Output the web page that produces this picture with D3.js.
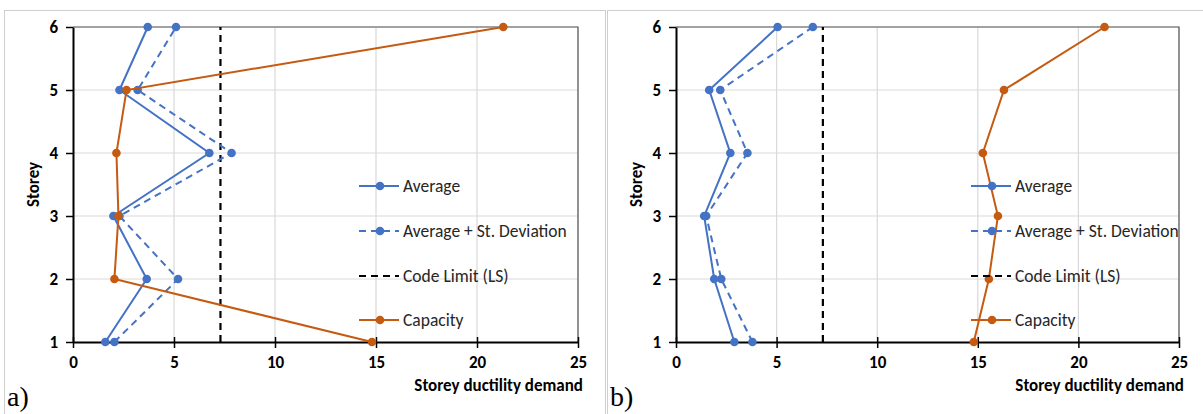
<!DOCTYPE html>
<html>
<head>
<meta charset="utf-8">
<script src="https://cdn.jsdelivr.net/npm/d3@7"></script>
<style>
  body { margin: 0; background: #fff; }
  svg { display: block; font-family: Calibri, Carlito, "Open Sans", "Noto Sans", sans-serif; }
</style>
</head>
<body>
<script>
// data
var storeys = [1, 2, 3, 4, 5, 6];
var xTicks = [0, 5, 10, 15, 20, 25];
var codeLimit = 7.3;

var avgA   = [1.6, 3.65, 2.0, 6.75, 2.3, 3.7];
var avgSdA = [2.05, 5.2, 2.3, 7.85, 3.2, 5.1];
var capA   = [14.8, 2.05, 2.25, 2.15, 2.65, 21.3];

var avgB   = [2.9, 1.9, 1.4, 2.7, 1.65, 5.05];
var avgSdB = [3.8, 2.25, 1.5, 3.55, 2.2, 6.8];
var capB   = [14.8, 15.55, 16.0, 15.25, 16.3, 21.3];

var legendLabels = ["Average", "Average + St. Deviation", "Code Limit (LS)", "Capacity"];

var blue = "#4472c4", orange = "#c55a11";

var svg = d3.select("body").append("svg")
  .attr("width", 1203)
  .attr("height", 414);

// panel frames
svg.append("rect").attr("x", 4.5).attr("y", 10.5).attr("width", 601).attr("height", 410)
  .attr("fill", "none").attr("stroke", "#cfcfcf");
svg.append("rect").attr("x", 607.5).attr("y", 10.5).attr("width", 600).attr("height", 410)
  .attr("fill", "none").attr("stroke", "#cfcfcf");

function panel(left, right, avg, avgSd, cap, letter, legX) {
  var x = d3.scaleLinear().domain([0, 25]).range([left, right]);
  var y = d3.scaleLinear().domain([1, 6]).range([342, 27]);
  var g = svg.append("g");

  // grid
  g.selectAll(".gx").data(xTicks.slice(1)).enter().append("line")
    .attr("x1", function(d) { return x(d); }).attr("x2", function(d) { return x(d); })
    .attr("y1", y(1)).attr("y2", y(6))
    .attr("stroke", "#d9d9d9").attr("stroke-width", 1.2);
  g.selectAll(".gy").data(storeys.slice(1)).enter().append("line")
    .attr("x1", x(0)).attr("x2", x(25))
    .attr("y1", function(d) { return y(d); }).attr("y2", function(d) { return y(d); })
    .attr("stroke", "#d9d9d9").attr("stroke-width", 1.2);

  // top/right border
  g.append("path")
    .attr("d", "M" + x(0) + "," + y(6) + "H" + x(25) + "V" + y(1))
    .attr("fill", "none").attr("stroke", "#595959").attr("stroke-width", 1.2);

  // axes
  var xa = g.append("g").attr("transform", "translate(0," + y(1) + ")")
    .call(d3.axisBottom(x).tickValues(xTicks).tickFormat(d3.format("d"))
      .tickSize(6).tickSizeOuter(0).tickPadding(8));
  var ya = g.append("g").attr("transform", "translate(" + x(0) + ",0)")
    .call(d3.axisLeft(y).tickValues(storeys).tickFormat(d3.format("d"))
      .tickSize(7).tickSizeOuter(0).tickPadding(8));
  [xa, ya].forEach(function(a) {
    a.select(".domain").attr("stroke", "#000").attr("stroke-width", 2);
    a.selectAll(".tick line").attr("stroke", "#000").attr("stroke-width", 1.5);
    a.selectAll("text").attr("font-size", 17).attr("font-weight", "bold").attr("fill", "#000")
      .attr("font-family", "Carlito, Calibri, 'Open Sans', sans-serif");
  });
  xa.selectAll(".tick line").attr("y1", -5);

  g.append("text").attr("x", x(25) + 5).attr("y", 391).attr("text-anchor", "end")
    .attr("font-size", 17).attr("font-weight", "bold").text("Storey ductility demand");
  g.append("text").attr("transform", "translate(" + (left - 34) + "," + ((y(1) + y(6)) / 2) + ") rotate(-90)")
    .attr("text-anchor", "middle").attr("font-size", 17).attr("font-weight", "bold").text("Storey");

  // code limit
  g.append("line").attr("x1", x(codeLimit)).attr("x2", x(codeLimit))
    .attr("y1", y(1)).attr("y2", y(6))
    .attr("stroke", "#000").attr("stroke-width", 2.2).attr("stroke-dasharray", "7,5");

  var line = d3.line().x(function(d) { return x(d[0]); }).y(function(d) { return y(d[1]); });
  function series(vals, color, dash) {
    var pts = vals.map(function(v, i) { return [v, storeys[i]]; });
    g.append("path").datum(pts).attr("d", line)
      .attr("fill", "none").attr("stroke", color).attr("stroke-width", 2)
      .attr("stroke-dasharray", dash);
    g.selectAll(null).data(pts).enter().append("circle")
      .attr("cx", function(d) { return x(d[0]); }).attr("cy", function(d) { return y(d[1]); })
      .attr("r", 4.3).attr("fill", color);
  }
  series(avgSd, blue, "7,5");
  series(avg, blue, null);
  series(cap, orange, null);

  // legend
  var ly = [186, 231, 276, 320];
  var styles = [[blue, null, true], [blue, "7,5", true], ["#000", "7,5", false], [orange, null, true]];
  legendLabels.forEach(function(t, i) {
    var s = styles[i];
    g.append("line").attr("x1", legX).attr("x2", legX + 40).attr("y1", ly[i]).attr("y2", ly[i])
      .attr("stroke", s[0]).attr("stroke-width", 2).attr("stroke-dasharray", s[1]);
    if (s[2]) g.append("circle").attr("cx", legX + 21).attr("cy", ly[i]).attr("r", 4.3).attr("fill", s[0]);
    g.append("text").attr("x", legX + 44).attr("y", ly[i] + 6).attr("font-size", 17.5)
      .attr("fill", "#262626").text(t);
  });

  g.append("text").attr("x", left - 66).attr("y", 406)
    .attr("font-family", "'Liberation Serif', 'DejaVu Serif', serif").attr("font-size", 28).text(letter);
}

panel(73, 578, avgA, avgSdA, capA, "a)", 359);
panel(676, 1179, avgB, avgSdB, capB, "b)", 971);
</script>
</body>
</html>
